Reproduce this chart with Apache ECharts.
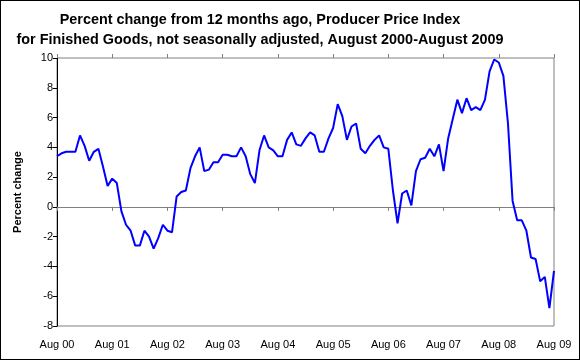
<!DOCTYPE html>
<html>
<head>
<meta charset="utf-8">
<script src="https://cdn.jsdelivr.net/npm/echarts@6/dist/echarts.min.js"></script>
<style>
html,body{margin:0;padding:0;background:#fff;}
#c{width:580px;height:360px;border:1px solid #000;box-sizing:border-box;}
</style>
</head>
<body>
<div id="c"></div>
<script>
const titleLines = ["Percent change from 12 months ago, Producer Price Index",
  "for Finished Goods, not seasonally adjusted, August 2000-August 2009"];
const yAxisName = "Percent change";
const monthNames = ["Jan","Feb","Mar","Apr","May","Jun","Jul","Aug","Sep","Oct","Nov","Dec"];
const startYear = 2000, startMonth = 7; // August 2000
const monthCount = 109;                 // through August 2009
const categories = [];
for (let i = 0; i < monthCount; i++) {
  const m = (startMonth + i) % 12;
  const y = startYear + Math.floor((startMonth + i) / 12);
  categories.push(monthNames[m] + " " + String(y % 100).padStart(2, "0"));
}
const ppiChange = [
  3.4, 3.6, 3.7, 3.7, 3.7, 4.8, 4.1, 3.1, 3.7, 3.9, 2.7, 1.4,
  1.9, 1.6, -0.3, -1.2, -1.6, -2.6, -2.6, -1.6, -2.0, -2.8, -2.1, -1.2,
  -1.6, -1.7, 0.7, 1.0, 1.1, 2.6, 3.4, 4.0, 2.4, 2.5, 3.0, 3.0,
  3.5, 3.5, 3.4, 3.4, 4.0, 3.4, 2.2, 1.6, 3.8, 4.8, 4.0, 3.8,
  3.4, 3.4, 4.5, 5.0, 4.2, 4.1, 4.6, 5.0, 4.8, 3.7, 3.7, 4.6,
  5.3, 6.9, 6.1, 4.5, 5.4, 5.6, 3.9, 3.6, 4.1, 4.5, 4.8, 4.0,
  3.9, 1.1, -1.1, 0.9, 1.1, 0.1, 2.4, 3.2, 3.3, 3.9, 3.4, 4.2,
  2.4, 4.6, 5.9, 7.2, 6.3, 7.3, 6.5, 6.7, 6.5, 7.2, 9.1, 9.9,
  9.7, 8.8, 5.6, 0.4, -0.9, -0.9, -1.6, -3.4, -3.5, -5.0, -4.7, -6.8,
  -4.3
];
const yMin = -8, yMax = 10, yStep = 2;
const labelEvery = 12;

const chart = echarts.init(document.getElementById('c'), null, {renderer: 'canvas'});
const font = '"Liberation Sans", Arial, sans-serif';
chart.setOption({
  animation: false,
  backgroundColor: '#fff',
  textStyle: {fontFamily: font},
  title: {
    text: titleLines.join('\n'),
    left: 254, textAlign: 'center', top: 4,
    textStyle: {fontSize: 14.4, fontWeight: 'bold', color: '#000', lineHeight: 20, fontFamily: font}
  },
  grid: {left: 56, top: 57, width: 497, height: 268, show: true, borderColor: '#808080', borderWidth: 1, backgroundColor: 'transparent'},
  xAxis: [
    {
      type: 'category', data: categories, boundaryGap: false, position: 'bottom',
      axisLine: {show: false, onZero: false},
      axisTick: {show: false},
      axisLabel: {interval: labelEvery - 1, color: '#000', fontSize: 11, fontFamily: font, margin: 13,
        showMinLabel: true, showMaxLabel: true,
        formatter: v => v.startsWith('Aug') ? v : ''},
      splitLine: {show: false}
    },
    {
      type: 'category', data: categories, boundaryGap: false, position: 'bottom',
      axisLine: {show: true, onZero: true, lineStyle: {color: '#808080', width: 1}},
      axisTick: {show: true, interval: labelEvery - 1, length: 4, lineStyle: {color: '#808080'}},
      axisLabel: {show: false},
      splitLine: {show: false}
    },
    {
      type: 'category', data: categories, boundaryGap: false, position: 'top',
      axisLine: {show: false, onZero: true},
      axisTick: {show: true, interval: labelEvery - 1, length: 4, lineStyle: {color: '#808080'}},
      axisLabel: {show: false},
      splitLine: {show: false}
    }
  ],
  yAxis: {
    type: 'value', min: yMin, max: yMax, interval: yStep,
    name: yAxisName, nameLocation: 'middle', nameGap: 34, nameRotate: 90,
    nameTextStyle: {fontSize: 11, fontWeight: 'bold', color: '#000', fontFamily: font, padding: [0, 0, 0, 0]},
    axisLine: {show: true, lineStyle: {color: '#000', width: 1}},
    axisTick: {show: true, length: 4, lineStyle: {color: '#000'}},
    axisLabel: {color: '#000', fontSize: 11, fontFamily: font, margin: 4},
    splitLine: {show: false}
  },
  series: [{
    type: 'line', data: ppiChange, xAxisIndex: 0,
    symbol: 'none', smooth: false,
    lineStyle: {color: '#0000FF', width: 2},
    z: 5
  }]
});
</script>
</body>
</html>
